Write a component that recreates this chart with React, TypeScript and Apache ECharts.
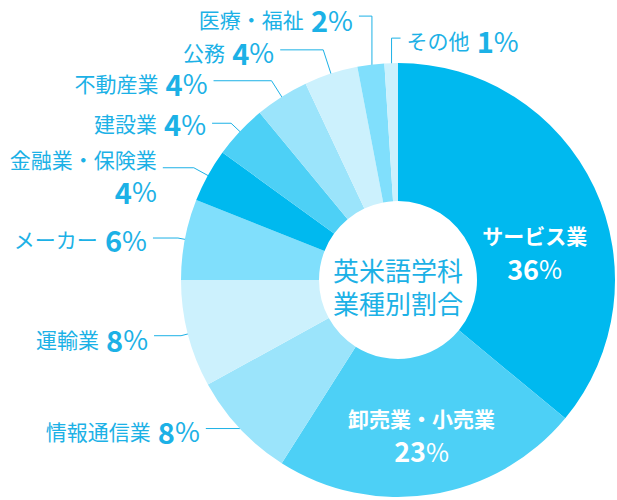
import { useEffect, useRef } from 'react';
import * as echarts from 'echarts';

// ---- data ----
const categories = ['サービス業', '卸売業・小売業', '情報通信業', '運輸業', 'メーカー', '金融業・保険業', '建設業', '不動産業', '公務', '医療・福祉', 'その他'];
const shares = [36, 23, 8, 8, 6, 4, 4, 4, 4, 2, 1];
const centerTitle = ['英米語学科', '業種別割合'];

// ---- styling ----
const sliceColors = ['#00b9ef', '#4dd0f6', '#9be4fb', '#ccf1fd', '#80dffc', '#00b9ef', '#4dd0f6', '#9be4fb', '#ccf1fd', '#80dffc', '#ccf1fd'];
const insideLabel = [true, true, false, false, false, false, false, false, false, false, false];
const twoLineLabel = [false, false, false, false, false, true, false, false, false, false, false];
const lineLength = [0, 0, 0, 7, 7, 16, 12, 19, 25, 49, 25];
const lineLength2 = [0, 0, 34, 27, 25, 31, 19, 58, 43, 13, 9];
const lineInset = [0, 0, 41, 10, 13, 10, 14, 10, 8, 9, 12];
const verticalLeader = [false, false, false, false, false, false, false, false, false, true, true];
const labelSide = [0, 0, -1, -1, -1, -1, -1, -1, -1, -1, 1];
const labelDy = [36, 5, 2, 3, 1, 7, 0, 2, 2, 3, 2];

const BLUE = '#1cb1e6';
const FONT = '"Noto Sans CJK JP", "Noto Sans", sans-serif';
const CX = 398;
const CY = 280;
const R_OUT = 217;
const R_IN = 79;
const GAP = 6;

export default function App() {
  const ref = useRef<HTMLDivElement>(null);
  useEffect(() => {
    if (!ref.current) return;
    const chart = echarts.init(ref.current, null, { renderer: 'svg' });
    const data = categories.map((name, i) => ({
      name,
      value: shares[i],
      itemStyle: { color: sliceColors[i] },
      label: insideLabel[i] ? { position: 'inside' } : { position: 'outside' },
      labelLine: insideLabel[i] ? { show: false } : { show: true, length: lineLength[i], length2: lineLength2[i] },
    }));
    const titleStyle = {
      fill: BLUE,
      fontSize: 26,
      fontFamily: FONT,
      align: 'center',
      verticalAlign: 'middle',
      textAlign: 'center',
      textVerticalAlign: 'middle',
    };
    chart.setOption({
      animation: false,
      graphic: centerTitle.map((t, k) => ({
        type: 'text',
        x: CX,
        y: CY - 11 + k * 33,
        style: { ...titleStyle, text: t },
        z: 100,
      })),
      series: [
        {
          type: 'pie',
          center: [CX, CY],
          radius: [R_IN, R_OUT],
          startAngle: 90,
          clockwise: true,
          avoidLabelOverlap: false,
          silent: true,
          label: {
            show: true,
            fontFamily: FONT,
            distanceToLabelLine: GAP,
            formatter: (p: any) => {
              const i = p.dataIndex;
              if (insideLabel[i]) return `{in|${p.name}}\n{iv|${p.value}}{ip|%}`;
              if (twoLineLabel[i]) return `{n2|${p.name}}\n{v2|${p.value}}{p2|%}`;
              return `{n|${p.name}}{s| }{v|${p.value}}{p|%}`;
            },
            rich: {
              n: { fontSize: 21, color: BLUE, fontFamily: FONT, lineHeight: 26 },
              s: { fontSize: 32, color: BLUE, fontFamily: FONT, lineHeight: 26 },
              v: { fontSize: 29, fontWeight: 'bold', color: BLUE, fontFamily: FONT, lineHeight: 26 },
              p: { fontSize: 27, color: BLUE, fontFamily: FONT, lineHeight: 26 },
              n2: { fontSize: 21, color: BLUE, fontFamily: FONT, lineHeight: 32 },
              v2: { fontSize: 29, fontWeight: 'bold', color: BLUE, fontFamily: FONT, lineHeight: 32 },
              p2: { fontSize: 27, color: BLUE, fontFamily: FONT, lineHeight: 32 },
              in: { fontSize: 21, fontWeight: 'bold', color: '#ffffff', fontFamily: FONT, lineHeight: 33 },
              iv: { fontSize: 27, fontWeight: 'bold', color: '#ffffff', fontFamily: FONT, lineHeight: 33 },
              ip: { fontSize: 25, color: '#ffffff', fontFamily: FONT, lineHeight: 33 },
            },
          },
          labelLine: {
            show: true,
            smooth: false,
            lineStyle: { color: BLUE, width: 1 },
          },
          labelLayout: (p: any) => {
            const i = p.dataIndex;
            if (insideLabel[i]) return { dy: labelDy[i] };
            const pts = p.labelLinePoints;
            if (!pts || pts.length < 2) return {};
            const k = pts[1];
            const ux = k[0] - CX;
            const uy = k[1] - CY;
            const len = Math.hypot(ux, uy) || 1;
            const nx = ux / len;
            const ny = uy / len;
            const r0 = R_OUT - lineInset[i];
            const start = [CX + nx * r0, CY + ny * r0];
            const knee = verticalLeader[i] ? [start[0], k[1]] : [k[0], k[1]];
            const side = labelSide[i];
            const end = [knee[0] + side * lineLength2[i], knee[1]];
            return {
              labelLinePoints: [start, knee, end],
              x: end[0] + side * GAP,
              y: end[1] + labelDy[i],
              align: side < 0 ? 'right' : 'left',
              verticalAlign: 'middle',
            };
          },
          data,
        },
      ],
    });
    return () => chart.dispose();
  }, []);
  return <div ref={ref} style={{ position: 'absolute', left: 0, top: 0, width: 617, height: 500 }} />;
}
